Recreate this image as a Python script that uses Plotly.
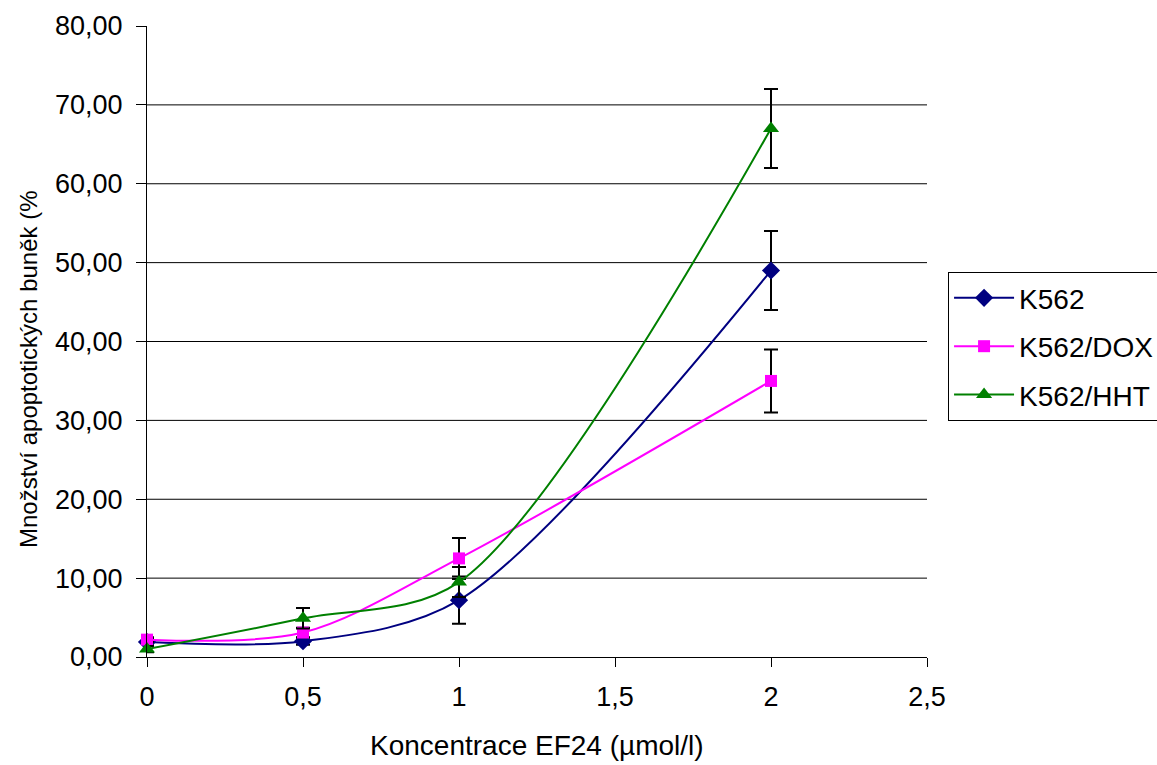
import plotly.graph_objects as go

# Concentrations of EF24 (µmol/l)
concentration = [0, 0.5, 1, 2]

# Apoptotic cell fraction (%) and standard deviations for each cell line
k562 = [1.9, 2.0, 7.2, 49.0]
k562_err = [0.4, 0.45, 3.0, 5.0]

k562_dox = [2.2, 3.1, 12.5, 35.0]
k562_dox_err = [0.3, 0.6, 2.6, 4.0]

k562_hht = [1.0, 4.9, 9.5, 67.0]
k562_hht_err = [0.4, 1.3, 1.9, 5.0]

y_ticks = [0, 10, 20, 30, 40, 50, 60, 70, 80]
grid_levels = [10, 20, 30, 40, 50, 60, 70]

FONT = "Liberation Sans, Arial, sans-serif"

series = [
    ("K562", k562, k562_err, "#000080", "diamond", 14),
    ("K562/DOX", k562_dox, k562_dox_err, "#FF00FF", "square", 12),
    ("K562/HHT", k562_hht, k562_hht_err, "#008000", "triangle-up", 14),
]

fig = go.Figure()
for name, vals, errs, color, symbol, size in series:
    fig.add_trace(go.Scatter(
        x=concentration,
        y=vals,
        name=name,
        legendgroup=name,
        mode="lines+markers",
        line=dict(color=color, width=2, shape="spline", smoothing=0.9),
        marker=dict(color=color, symbol=symbol, size=size),
        error_y=dict(type="data", array=errs, visible=True,
                     color="black", thickness=2, width=7),
        cliponaxis=False,
    ))

# horizontal gridlines (none at the top edge)
for g in grid_levels:
    fig.add_shape(type="line", xref="paper", yref="y", x0=0, x1=1, y0=g, y1=g,
                  line=dict(color="black", width=1), layer="below")

fig.update_layout(
    width=1157, height=765,
    margin=dict(l=147, r=230, t=26, b=108, autoexpand=False),
    paper_bgcolor="white", plot_bgcolor="white",
    separators=", ",
    font=dict(family=FONT, size=27, color="black"),
    showlegend=True,
    legend=dict(
        x=1.027, y=0.61, xanchor="left", yanchor="top",
        bordercolor="black", borderwidth=1, bgcolor="white",
        font=dict(family=FONT, size=28, color="black"),
        itemwidth=60, tracegroupgap=9, traceorder="grouped",
    ),
    xaxis=dict(
        range=[0, 2.5], dtick=0.5, tick0=0,
        showgrid=False, zeroline=False,
        showline=True, linecolor="black", linewidth=1,
        ticks="outside", ticklen=9, tickcolor="black", tickwidth=1,
        ticklabelstandoff=7,
        tickfont=dict(family=FONT, size=27),
    ),
    yaxis=dict(
        range=[0, 80], tickvals=y_ticks, tickformat=".2f",
        showgrid=False, zeroline=False,
        showline=True, linecolor="black", linewidth=1,
        ticks="outside", ticklen=10, tickcolor="black", tickwidth=1,
        ticklabelstandoff=8,
        tickfont=dict(family=FONT, size=27),
    ),
    annotations=[
        dict(text="Koncentrace EF24 (µmol/l)", xref="paper", yref="paper",
             x=0.5, y=-0.1395, xanchor="center", yanchor="middle",
             showarrow=False, font=dict(family=FONT, size=28)),
        dict(text="Množství apoptotických buněk (%", xref="paper", yref="paper",
             x=-0.1526, y=0.4564, xanchor="center", yanchor="middle",
             textangle=-90, showarrow=False, font=dict(family=FONT, size=24)),
    ],
)

fig.write_html("out.html")
